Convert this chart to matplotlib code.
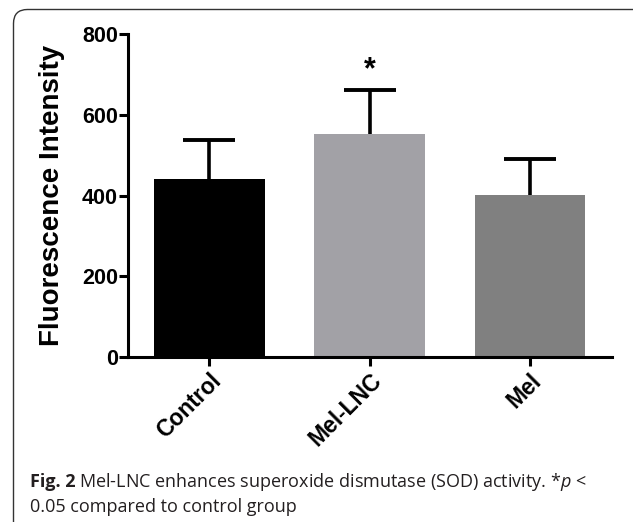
import matplotlib
matplotlib.use('Agg')
import matplotlib.pyplot as plt
from matplotlib.patches import FancyBboxPatch
from matplotlib.transforms import IdentityTransform

# Data
groups = ['Control', 'Mel-LNC', 'Mel']
means = [441, 553, 403]
sems = [98, 108, 87]
bar_colors = ['#000000', '#a2a1a6', '#808080']
y_ticks = [0, 200, 400, 600, 800]

plt.rcParams['font.family'] = 'Liberation Sans'
plt.rcParams['mathtext.fontset'] = 'custom'
plt.rcParams['mathtext.rm'] = 'Open Sans'
plt.rcParams['mathtext.it'] = 'Open Sans:italic:normal'

fig = plt.figure(figsize=(6.33, 5.22), dpi=100)
ax = fig.add_axes([0.203, 0.3157, 0.7634, 0.6186])

x = list(range(len(groups)))
ax.bar(x, means, width=0.69, color=bar_colors, zorder=2)
eb = ax.errorbar(x, means, yerr=[[0] * len(sems), sems], fmt='none', ecolor='black',
                 elinewidth=2.6, capsize=19, capthick=2.8, zorder=3)
# only the upper half of the error bar is shown
eb[1][0].set_visible(False)

# significance mark over Mel-LNC
ax.text(1, 710, '*', ha='center', va='center', fontsize=22, fontweight='bold')

ax.set_xlim(-0.505, 2.51)
ax.set_ylim(0, 800)
ax.set_yticks(y_ticks)
ax.set_xticks(x)
ax.set_xticklabels(groups, rotation=45, ha='right', rotation_mode='anchor',
                   fontweight='bold', fontsize=16.5)
ax.set_yticklabels([str(v) for v in y_ticks], fontweight='bold', fontsize=15.5)
ax.set_ylabel('Fluorescence Intensity', fontsize=20, fontweight='bold', labelpad=12)

for side in ['top', 'right']:
    ax.spines[side].set_visible(False)
for side in ['left', 'bottom']:
    ax.spines[side].set_linewidth(2.2)
ax.tick_params(axis='both', width=2.2, length=6.5)
ax.tick_params(axis='y', pad=1)
ax.tick_params(axis='x', pad=2)

# rounded frame around the figure panel (runs off right and bottom edge)
frame = FancyBboxPatch((13.5, -30), 650, 542.5, boxstyle='round,pad=0,rounding_size=14',
                       transform=IdentityTransform(), fill=False,
                       edgecolor='#333333', linewidth=1.0)
fig.patches.append(frame)

# caption: bold "Fig. 2" followed by the regular text
cap_kw = dict(fontfamily='Open Sans', fontsize=13, color='#231f20',
              va='baseline', ha='left')
fig_lbl = fig.text(0.047, 0.067, 'Fig. 2', fontweight='bold', **cap_kw)
renderer = fig.canvas.get_renderer()
bb = fig_lbl.get_window_extent(renderer)
fig.text((bb.x1 + 4) / fig.bbox.width, 0.067,
         r'Mel-LNC enhances superoxide dismutase (SOD) activity. *$\it{p}$ <',
         fontweight='normal', **cap_kw)
fig.text(0.047, 0.019, '0.05 compared to control group', fontweight='normal', **cap_kw)

fig.savefig('out.png', dpi=100)
